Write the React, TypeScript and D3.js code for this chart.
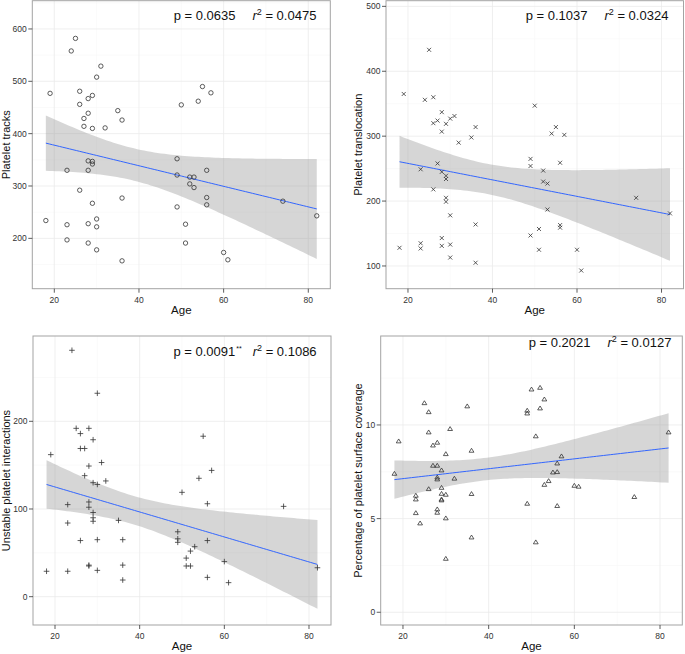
import * as d3 from 'd3';

// ages and values
const ageTracks = [18, 19, 23, 23, 23, 24, 25, 26, 26, 26, 27, 27, 28, 28, 28, 28, 28, 28, 29, 29, 29, 29, 29, 30, 30, 30, 30, 31, 32, 35, 36, 36, 36, 49, 49, 49, 50, 51, 51, 52, 52, 53, 53, 54, 55, 56, 56, 56, 57, 60, 61, 74, 82];
const tracks = [234, 477, 330, 226, 197, 558, 582, 481, 456, 292, 429, 414, 467, 439, 348, 330, 228, 191, 473, 410, 347, 342, 267, 508, 237, 222, 178, 529, 411, 444, 426, 277, 157, 352, 321, 260, 455, 227, 191, 317, 304, 317, 297, 462, 490, 330, 278, 264, 478, 173, 159, 271, 243];

const ageTransloc = [18, 19, 23, 23, 23, 24, 25, 26, 26, 26, 27, 27, 28, 28, 28, 28, 28, 29, 29, 29, 29, 29, 30, 30, 30, 30, 31, 32, 35, 36, 36, 36, 49, 49, 49, 50, 51, 51, 52, 52, 53, 53, 54, 55, 56, 56, 56, 57, 60, 61, 74, 82];
const transloc = [128, 365, 249, 135, 127, 356, 433, 360, 320, 218, 324, 258, 337, 307, 245, 143, 131, 319, 239, 234, 205, 199, 327, 178, 133, 113, 331, 290, 298, 314, 164, 105, 265, 254, 147, 347, 157, 125, 247, 230, 227, 187, 304, 314, 259, 163, 159, 302, 125, 93, 205, 181];

const ageUnstable = [18, 19, 23, 23, 23, 24, 25, 26, 26, 26, 27, 27, 28, 28, 28, 28, 28, 28, 29, 29, 29, 29, 29, 30, 30, 30, 30, 31, 32, 35, 36, 36, 36, 49, 49, 49, 50, 51, 51, 52, 52, 53, 54, 55, 56, 56, 56, 57, 60, 61, 74, 82];
const unstable = [29, 162, 105, 84, 29, 281, 192, 186, 169, 64, 169, 138, 192, 149, 108, 102, 36, 35, 179, 130, 96, 90, 86, 232, 128, 65, 30, 153, 132, 87, 65, 36, 19, 74, 66, 62, 119, 44, 35, 52, 35, 57, 135, 183, 106, 64, 22, 144, 40, 16, 103, 33];

const ageCoverage = [18, 19, 23, 23, 23, 24, 25, 26, 26, 26, 27, 27, 28, 28, 28, 28, 28, 28, 29, 29, 29, 29, 29, 30, 30, 30, 30, 31, 32, 35, 36, 36, 36, 49, 49, 49, 50, 51, 51, 52, 52, 53, 53, 54, 55, 56, 56, 56, 57, 60, 61, 74, 82];
const coverage = [7.40, 9.13, 6.23, 6.03, 5.30, 4.75, 11.17, 10.69, 9.61, 6.58, 8.91, 7.83, 9.06, 7.83, 7.20, 7.10, 5.50, 5.32, 7.58, 6.65, 6.33, 6.03, 5.98, 8.45, 6.28, 5.02, 2.86, 9.79, 7.14, 11.0, 8.63, 6.32, 4.0, 10.77, 10.62, 5.80, 11.90, 9.40, 3.74, 11.99, 10.89, 11.37, 6.81, 7.01, 7.47, 7.95, 7.49, 5.68, 8.33, 6.76, 6.71, 6.16, 9.61];

const xTicks = [20, 40, 60, 80];

const panels = [
  {
    ages: ageTracks, values: tracks, shape: 'circle', title: 'Platelet tracks',
    p: '0.0635', stars: '', r2: '0.0475',
    box: [32.3, 0.7, 330.3, 288.7], yDomain: [103.8, 654], yTicks: [200, 300, 400, 500, 600], yStep: 100,
    titleX: 6, annX: 245, annY: 19.5,
  },
  {
    ages: ageTransloc, values: transloc, shape: 'times', title: 'Platelet translocation',
    p: '0.1037', stars: '', r2: '0.0324',
    box: [386, 0.7, 683.5, 288.7], yDomain: [65, 508.7], yTicks: [100, 200, 300, 400, 500], yStep: 100,
    titleX: 358, annX: 597, annY: 19.5,
  },
  {
    ages: ageUnstable, values: unstable, shape: 'plus', title: 'Unstable platelet interactions',
    p: '0.0091', stars: '**', r2: '0.1086',
    box: [33, 336, 331, 625], yDomain: [-32.3, 297.3], yTicks: [0, 100, 200], yStep: 100,
    titleX: 6, annX: 245, annY: 355.5,
  },
  {
    ages: ageCoverage, values: coverage, shape: 'triangle', title: 'Percentage of platelet surface coverage',
    p: '0.2021', stars: '', r2: '0.0127',
    box: [380.7, 336, 682.3, 625], yDomain: [-0.68, 14.75], yTicks: [0, 5, 10], yStep: 5,
    titleX: 358, annX: 600, annY: 347.3,
  },
];

const FONT = '"Liberation Sans", Arial, Helvetica, sans-serif';

// ordinary least squares with 95% confidence band
function fitBand(xs: number[], ys: number[]) {
  const n = xs.length;
  const xm = d3.mean(xs)!;
  const ym = d3.mean(ys)!;
  const sxx = d3.sum(xs, (x) => (x - xm) ** 2);
  const sxy = d3.sum(xs, (x, i) => (x - xm) * (ys[i] - ym));
  const b = sxy / sxx;
  const a = ym - b * xm;
  const sse = d3.sum(xs, (x, i) => (ys[i] - a - b * x) ** 2);
  const s = Math.sqrt(sse / (n - 2));
  const t = 2.008;
  const [x0, x1] = d3.extent(xs) as [number, number];
  return d3.range(0, 81).map((k) => {
    const x = x0 + ((x1 - x0) * k) / 80;
    const fit = a + b * x;
    const se = s * Math.sqrt(1 / n + (x - xm) ** 2 / sxx);
    return { x, fit, lo: fit - t * se, hi: fit + t * se };
  });
}

function markPath(shape: string) {
  if (shape === 'circle') return 'M2.2,0A2.2,2.2,0,1,1,-2.2,0A2.2,2.2,0,1,1,2.2,0Z';
  if (shape === 'times') return 'M-2,-2L2,2M-2,2L2,-2';
  if (shape === 'plus') return 'M-2.8,0L2.8,0M0,-2.8L0,2.8';
  return 'M0,-2.3L2.4,1.6L-2.4,1.6Z';
}

function Panel({ cfg }: { cfg: (typeof panels)[number] }) {
  const [left, top, right, bottom] = cfg.box;
  const x = d3.scaleLinear().domain([14.8, 85.2]).range([left, right]);
  const y = d3.scaleLinear().domain(cfg.yDomain).range([bottom, top]);
  const band = fitBand(cfg.ages, cfg.values);
  const area = d3.area<any>().x((d) => x(d.x)).y0((d) => y(d.lo)).y1((d) => y(d.hi));
  const line = d3.line<any>().x((d) => x(d.x)).y((d) => y(d.fit));
  const xMinor = [10, 30, 50, 70, 90].filter((v) => v > 14.8 && v < 85.2);
  const yMinor = d3
    .range(cfg.yTicks[0] - cfg.yStep / 2, cfg.yDomain[1], cfg.yStep)
    .filter((v) => v > cfg.yDomain[0] && v < cfg.yDomain[1]);
  const path = markPath(cfg.shape);
  const midY = (top + bottom) / 2;

  return (
    <g fontFamily={FONT}>
      <rect x={left} y={top} width={right - left} height={bottom - top} fill="#fff" />
      {xMinor.map((v) => (
        <line key={'xm' + v} x1={x(v)} x2={x(v)} y1={top} y2={bottom} stroke="#f6f6f6" strokeWidth={0.6} />
      ))}
      {yMinor.map((v) => (
        <line key={'ym' + v} x1={left} x2={right} y1={y(v)} y2={y(v)} stroke="#f6f6f6" strokeWidth={0.6} />
      ))}
      {xTicks.map((v) => (
        <line key={'xg' + v} x1={x(v)} x2={x(v)} y1={top} y2={bottom} stroke="#ebebeb" strokeWidth={0.8} />
      ))}
      {cfg.yTicks.map((v) => (
        <line key={'yg' + v} x1={left} x2={right} y1={y(v)} y2={y(v)} stroke="#ebebeb" strokeWidth={0.8} />
      ))}
      <path d={area(band)!} fill="#999999" fillOpacity={0.4} />
      <path d={line(band)!} fill="none" stroke="#3366ff" strokeWidth={1} />
      {cfg.values.map((v, i) => (
        <path
          key={i}
          d={path}
          transform={`translate(${x(cfg.ages[i])},${y(v)})`}
          fill="none"
          stroke="#333"
          strokeWidth={0.8}
        />
      ))}
      <rect x={left} y={top} width={right - left} height={bottom - top} fill="none" stroke="#a3a3a3" strokeWidth={1} />

      {xTicks.map((v) => (
        <g key={'xt' + v}>
          <line x1={x(v)} x2={x(v)} y1={bottom} y2={bottom + 4} stroke="#333" strokeWidth={0.8} />
          <text x={x(v)} y={bottom + 14} textAnchor="middle" fontSize={8.5} fill="#333">
            {v}
          </text>
        </g>
      ))}
      {cfg.yTicks.map((v) => (
        <g key={'yt' + v}>
          <line x1={left - 4} x2={left} y1={y(v)} y2={y(v)} stroke="#333" strokeWidth={0.8} />
          <text x={left - 5.5} y={y(v) + 3} textAnchor="end" fontSize={8.5} fill="#333">
            {v}
          </text>
        </g>
      ))}
      <text x={(left + right) / 2} y={bottom + 25} textAnchor="middle" fontSize={11.5} fill="#111">
        Age
      </text>
      <text
        transform={`translate(${cfg.titleX + 4},${midY}) rotate(-90)`}
        textAnchor="middle"
        fontSize={11}
        fill="#111"
      >
        {cfg.title}
      </text>

      <text x={cfg.annX} y={cfg.annY} textAnchor="middle" fontSize={13} fill="#111">
        <tspan>{`p = ${cfg.p}`}</tspan>
        {cfg.stars ? (
          <tspan fontSize={7} dy={-5} dx={1}>
            {cfg.stars}
          </tspan>
        ) : null}
        <tspan dx={cfg.stars ? 11 : 17} dy={cfg.stars ? 5 : 0} fontStyle="italic">
          r
        </tspan>
        <tspan fontSize={9} dy={-5}>
          2
        </tspan>
        <tspan dy={5}>{` = ${cfg.r2}`}</tspan>
      </text>
    </g>
  );
}

export default function App() {
  return (
    <svg width={685} height={654} style={{ position: 'absolute', left: 0, top: 0, background: '#fff' }}>
      {panels.map((cfg) => (
        <Panel key={cfg.title} cfg={cfg} />
      ))}
    </svg>
  );
}
